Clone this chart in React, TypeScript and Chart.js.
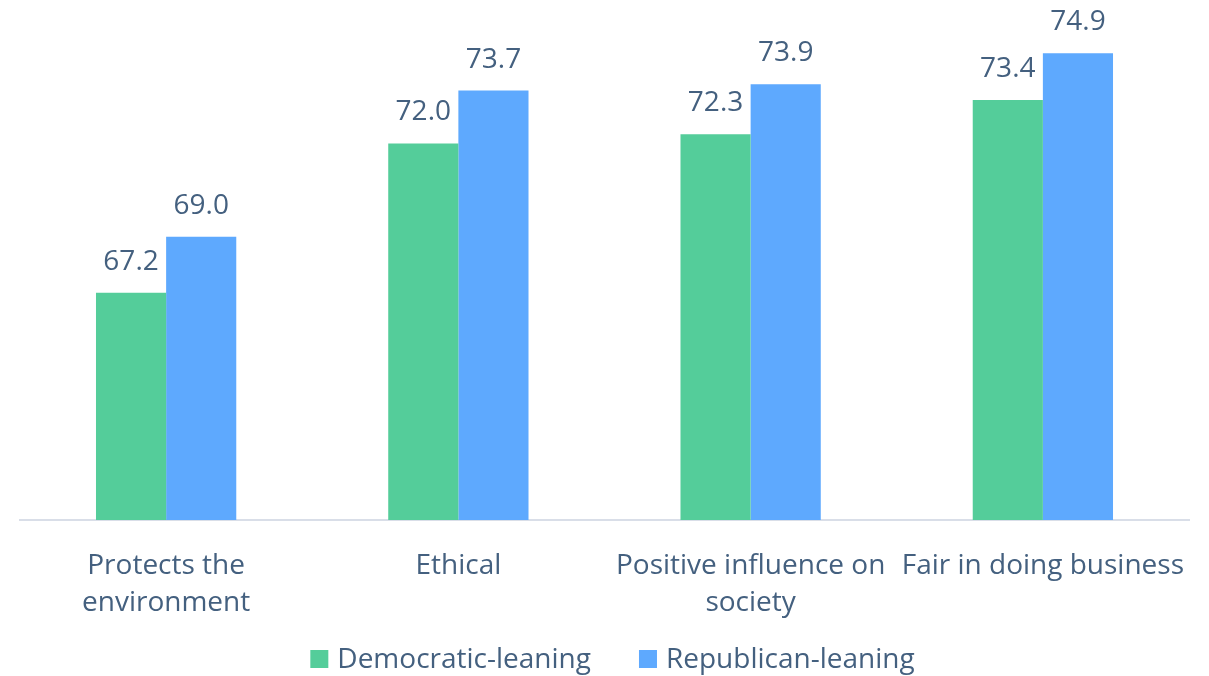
import React, { useEffect, useRef } from "react";
import { Chart, registerables } from "chart.js";

Chart.register(...registerables);

const categories: string[][] = [
  ["Protects the", "environment"],
  ["Ethical"],
  ["Positive influence on", "society"],
  ["Fair in doing business"],
];
const democratic: number[] = [67.2, 72.0, 72.3, 73.4];
const republican: number[] = [69.0, 73.7, 73.9, 74.9];
const seriesNames: string[] = ["Democratic-leaning", "Republican-leaning"];
const seriesColors: string[] = ["#54CD9A", "#5EA9FE"];

const TEXT = "#44607F";
const FONT = "'Open Sans', sans-serif";

const valueLabels = {
  id: "valueLabels",
  afterDatasetsDraw(chart: any) {
    const ctx = chart.ctx;
    ctx.save();
    ctx.font = `28px ${FONT}`;
    ctx.fillStyle = TEXT;
    ctx.textAlign = "center";
    ctx.textBaseline = "middle";
    chart.data.datasets.forEach((ds: any, i: number) => {
      const meta = chart.getDatasetMeta(i);
      meta.data.forEach((bar: any, j: number) => {
        ctx.fillText(Number(ds.data[j]).toFixed(1), bar.x, bar.y - 31);
      });
    });
    ctx.restore();
  },
};

const customLegend = {
  id: "customLegend",
  afterDraw(chart: any) {
    const ctx = chart.ctx;
    ctx.save();
    ctx.font = `28px ${FONT}`;
    ctx.textBaseline = "middle";
    ctx.textAlign = "left";
    const box = 18;
    const gapText = 9;
    const gapItem = 48;
    const widths = chart.data.datasets.map((ds: any) => ctx.measureText(ds.label).width);
    const total =
      widths.reduce((a: number, w: number) => a + box + gapText + w, 0) + gapItem * (widths.length - 1);
    let x = (chart.width - total) / 2 + 8;
    const cy = chart.height - 16;
    chart.data.datasets.forEach((ds: any, i: number) => {
      ctx.fillStyle = ds.backgroundColor;
      ctx.fillRect(x, cy - box / 2 - 1, box, box);
      x += box + gapText;
      ctx.fillStyle = TEXT;
      ctx.fillText(ds.label, x, cy);
      x += widths[i] + gapItem;
    });
    ctx.restore();
  },
};

export default function App() {
  const ref = useRef<HTMLCanvasElement>(null);
  useEffect(() => {
    if (!ref.current) return;
    const chart = new Chart(ref.current, {
      type: "bar",
      data: {
        labels: categories,
        datasets: [
          { label: seriesNames[0], data: democratic, backgroundColor: seriesColors[0] },
          { label: seriesNames[1], data: republican, backgroundColor: seriesColors[1] },
        ],
      },
      options: {
        animation: false,
        responsive: true,
        maintainAspectRatio: false,
        layout: { padding: { top: 11, left: 12, right: 12, bottom: 35 } },
        datasets: { bar: { categoryPercentage: 0.48, barPercentage: 1 } },
        scales: {
          x: {
            grid: { display: false },
            border: { color: "#D9DEE8", width: 2 },
            ticks: {
              color: TEXT,
              font: { family: FONT, size: 28, lineHeight: 1.34 },
              padding: 19,
              maxRotation: 0,
              autoSkip: false,
            },
            afterFit: (scale: any) => {
              scale.paddingLeft = 0;
              scale.paddingRight = 0;
            },
          },
          y: { display: false, min: 59.9, max: 76 },
        },
        plugins: {
          legend: { display: false },
          tooltip: { enabled: false },
        },
      },
      plugins: [valueLabels, customLegend],
    });
    return () => chart.destroy();
  }, []);
  return (
    <div style={{ position: "fixed", left: 8, top: 8, right: 8, height: 668 }}>
      <canvas ref={ref} />
    </div>
  );
}
